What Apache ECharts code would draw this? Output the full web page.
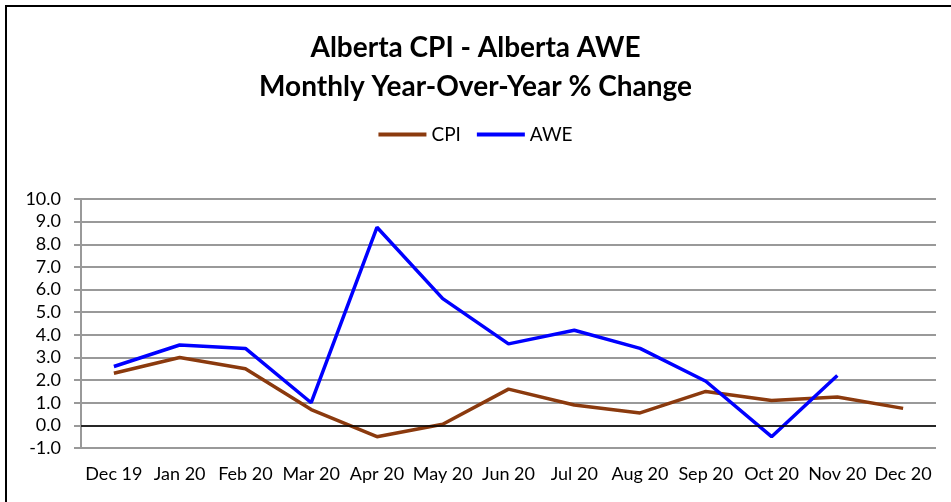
<!DOCTYPE html>
<html>
<head>
<meta charset="utf-8">
<script src="https://cdn.jsdelivr.net/npm/echarts@6/dist/echarts.min.js"></script>
<style>
    html, body { margin: 0; padding: 0; background: #fff; }
    #frame { position: absolute; left: 5px; top: 5px; width: 960px; height: 510px; border: 2px solid #000; box-sizing: border-box; }
    #main { position: absolute; left: 0; top: 0; width: 951px; height: 502px; }
</style>
</head>
<body>
<div id="frame"></div>
<div id="main"></div>
<script>
var months = ['Dec 19', 'Jan 20', 'Feb 20', 'Mar 20', 'Apr 20', 'May 20', 'Jun 20', 'Jul 20', 'Aug 20', 'Sep 20', 'Oct 20', 'Nov 20', 'Dec 20'];
var cpi = [2.3, 3.0, 2.5, 0.7, -0.5, 0.05, 1.6, 0.9, 0.55, 1.5, 1.1, 1.25, 0.75];
var awe = [2.6, 3.55, 3.4, 1.0, 8.75, 5.6, 3.6, 4.2, 3.4, 1.95, -0.5, 2.2, null];
var zeroLine = 0;

var dom = document.getElementById('main');
var myChart = echarts.init(dom);
var font = 'Lato, "Open Sans", sans-serif';

var option = {
    animation: false,
    title: {
        text: 'Alberta CPI - Alberta AWE\nMonthly Year-Over-Year % Change',
        left: 'center',
        top: 23,
        textStyle: {
            color: '#000',
            fontFamily: font,
            fontWeight: 'bold',
            fontSize: 28,
            lineHeight: 39
        }
    },
    legend: {
        top: 120,
        left: 'center',
        itemWidth: 48,
        itemHeight: 4,
        itemGap: 16,
        icon: 'rect',
        textStyle: { color: '#000', fontFamily: font, fontSize: 19 },
        data: ['CPI', 'AWE']
    },
    grid: { left: 81, right: 15, top: 199, bottom: 54 },
    xAxis: {
        type: 'category',
        data: months,
        boundaryGap: true,
        axisLine: { show: false },
        axisTick: { show: false },
        axisLabel: { color: '#000', fontFamily: font, fontSize: 18, margin: 17, interval: 0 }
    },
    yAxis: {
        type: 'value',
        min: -1,
        max: 10,
        interval: 1,
        axisLine: { show: true, lineStyle: { color: '#999', width: 2 } },
        axisTick: { show: true, length: 7, lineStyle: { color: '#999', width: 2 } },
        splitLine: { show: true, lineStyle: { color: '#999', width: 2 } },
        axisLabel: {
            color: '#000', fontFamily: font, fontSize: 18, margin: 20,
            formatter: function (v) { return v.toFixed(1); }
        }
    },
    series: [
        {
            name: 'CPI',
            type: 'line',
            data: cpi,
            symbol: 'none',
            color: '#8B3A0E',
            lineStyle: { width: 3.5, color: '#8B3A0E' },
            markLine: {
                silent: true,
                symbol: 'none',
                label: { show: false },
                lineStyle: { color: '#000', width: 1.5, type: 'solid' },
                data: [{ yAxis: zeroLine }]
            },
            z: 3
        },
        {
            name: 'AWE',
            type: 'line',
            data: awe,
            symbol: 'none',
            color: '#0000FF',
            lineStyle: { width: 3.5, color: '#0000FF' },
            z: 4
        }
    ]
};

if (option && typeof option === "object") {
    myChart.setOption(option, true);
}
</script>
</body>
</html>
